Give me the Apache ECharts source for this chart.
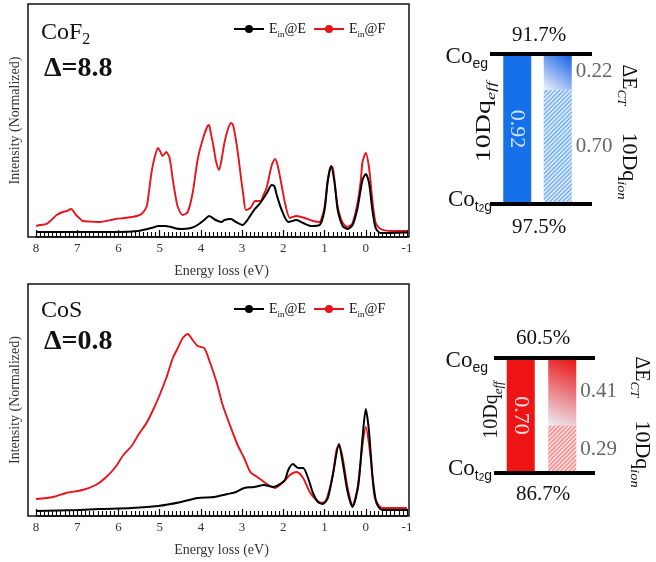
<!DOCTYPE html>
<html>
<head>
<meta charset="utf-8">
<script src="https://cdn.jsdelivr.net/npm/echarts@6/dist/echarts.min.js"></script>
<style>
html, body { margin: 0; padding: 0; background: #fff; }
#main { width: 656px; height: 562px; }
</style>
</head>
<body>
<div id="main"></div>
<script>
// tick labels of the energy axis (eV, drawn reversed)
const energyTicks = [8, 7, 6, 5, 4, 3, 2, 1, 0, -1];

// CoF2 spectra, [energy loss, intensity]
const cof2E = [[8.0,0.05],[7.0,0.05],[6.0,0.05],[5.52,0.06],[5.3,0.08],[5.15,0.095],[5.04,0.11],[4.88,0.11],[4.72,0.1],[4.6,0.085],[4.48,0.08],[4.24,0.09],[4.08,0.12],[3.92,0.17],[3.8,0.21],[3.64,0.17],[3.5,0.15],[3.43,0.17],[3.27,0.18],[3.15,0.15],[2.99,0.12],[2.87,0.17],[2.71,0.27],[2.56,0.34],[2.4,0.44],[2.28,0.52],[2.22,0.51],[2.16,0.42],[2.04,0.27],[1.88,0.15],[1.68,0.17],[1.52,0.14],[1.32,0.11],[1.12,0.12],[1.0,0.27],[0.92,0.57],[0.84,0.71],[0.76,0.55],[0.68,0.27],[0.56,0.11],[0.44,0.08],[0.32,0.12],[0.2,0.29],[0.08,0.57],[0.0,0.63],[-0.08,0.54],[-0.16,0.27],[-0.24,0.09],[-0.36,0.04],[-1.0,0.045]];
const cof2F = [[8.0,0.11],[7.9,0.12],[7.75,0.13],[7.6,0.18],[7.5,0.22],[7.35,0.25],[7.25,0.26],[7.15,0.28],[7.03,0.22],[6.95,0.19],[6.87,0.16],[6.7,0.155],[6.47,0.15],[6.3,0.16],[6.07,0.18],[5.85,0.19],[5.68,0.2],[5.55,0.21],[5.44,0.23],[5.32,0.3],[5.26,0.45],[5.2,0.64],[5.12,0.8],[5.04,0.89],[4.98,0.85],[4.93,0.81],[4.84,0.85],[4.76,0.79],[4.68,0.57],[4.62,0.42],[4.56,0.3],[4.44,0.22],[4.32,0.25],[4.2,0.44],[4.08,0.77],[3.96,0.97],[3.84,1.11],[3.8,1.12],[3.76,1.04],[3.7,0.92],[3.64,0.77],[3.56,0.67],[3.5,0.77],[3.43,0.94],[3.35,1.07],[3.27,1.14],[3.22,1.12],[3.15,0.97],[3.08,0.77],[3.03,0.6],[2.97,0.42],[2.91,0.27],[2.8,0.29],[2.68,0.36],[2.56,0.36],[2.48,0.42],[2.4,0.5],[2.28,0.72],[2.2,0.78],[2.14,0.72],[2.08,0.6],[2.02,0.47],[1.96,0.34],[1.84,0.19],[1.68,0.21],[1.48,0.19],[1.28,0.16],[1.12,0.15],[1.04,0.23],[1.0,0.3],[0.92,0.57],[0.84,0.71],[0.8,0.69],[0.76,0.57],[0.68,0.3],[0.56,0.14],[0.44,0.1],[0.32,0.14],[0.2,0.34],[0.12,0.57],[0.08,0.75],[0.0,0.84],[-0.08,0.69],[-0.16,0.37],[-0.24,0.14],[-0.36,0.08],[-0.64,0.06],[-1.0,0.06]];

// CoS spectra
const cosE = [[8.0,0.05],[7.0,0.06],[6.47,0.07],[5.68,0.08],[5.04,0.1],[4.48,0.14],[4.08,0.18],[3.68,0.19],[3.35,0.22],[3.15,0.24],[2.95,0.28],[2.71,0.29],[2.47,0.31],[2.24,0.29],[2.08,0.32],[1.96,0.36],[1.88,0.46],[1.77,0.52],[1.64,0.48],[1.52,0.48],[1.4,0.38],[1.28,0.23],[1.16,0.14],[1.04,0.12],[0.92,0.18],[0.8,0.41],[0.65,0.72],[0.55,0.51],[0.44,0.24],[0.32,0.09],[0.18,0.31],[0.08,0.78],[0.0,1.07],[-0.08,0.84],[-0.16,0.41],[-0.26,0.13],[-0.4,0.06],[-1.0,0.06]];
const cosF = [[8.0,0.17],[7.59,0.19],[7.27,0.23],[6.87,0.26],[6.55,0.31],[6.32,0.38],[6.07,0.49],[5.88,0.61],[5.68,0.7],[5.52,0.81],[5.32,0.93],[5.16,1.06],[5.0,1.21],[4.84,1.38],[4.68,1.58],[4.56,1.68],[4.44,1.78],[4.32,1.82],[4.2,1.76],[4.08,1.7],[3.92,1.68],[3.8,1.56],[3.62,1.34],[3.48,1.12],[3.27,0.88],[3.11,0.71],[2.95,0.58],[2.8,0.44],[2.63,0.39],[2.47,0.34],[2.32,0.3],[2.2,0.28],[2.0,0.34],[1.84,0.41],[1.68,0.44],[1.52,0.38],[1.36,0.24],[1.2,0.16],[1.08,0.13],[0.96,0.16],[0.8,0.41],[0.71,0.66],[0.65,0.71],[0.56,0.58],[0.44,0.28],[0.32,0.11],[0.2,0.28],[0.08,0.71],[0.0,0.89],[-0.12,0.58],[-0.22,0.18],[-0.4,0.08],[-1.0,0.08]];

// energy level diagrams (CoF2, CoS)
const dqEff = [0.92, 0.70];
const dqIon = [0.70, 0.29];
const ectVal = [0.22, 0.41];
const egOcc = ['91.7%', '60.5%'];
const t2gOcc = ['97.5%', '86.7%'];

const SERIF = '"Liberation Serif", "Times New Roman", serif';
const SANS = '"Liberation Sans", Arial, sans-serif';

let chart = echarts.init(document.getElementById('main'));

const panels = [
    {top: 4, height: 233, ymax: 2.33, legendTop: 17, titleY: 33, deltaY: 69, name: '{a|CoF}{b|2}', delta: 'Δ=8.8', e: cof2E, f: cof2F, id: 'cof2'},
    {top: 284, height: 232, ymax: 2.32, legendTop: 297, titleY: 311, deltaY: 342, name: '{a|CoS}', delta: 'Δ=0.8', e: cosE, f: cosF, id: 'cos'}
];
const diags = [
    {left: 497, width: 81, top: 54, height: 150, lineX: [490, 592], occX: 539, occTopY: 35, occBotY: 227,
        effX: 485, effY: 122, effScale: 1.4, sideX: 628, ctY: 85, ionY: 166,
        solid: '#1670ea', deep: '#0c5ce6', pale: '#eef2fb', hatchBg: '#d3e6fb', hatch: '#5fa2ef', inTxt: '#cfe4ff'},
    {left: 500, width: 83, top: 358, height: 115, lineX: [494, 595], occX: 543, occTopY: 338, occBotY: 494,
        effX: 492, effY: 410, effScale: 1.0, sideX: 641, ctY: 377, ionY: 454,
        solid: '#ee1414', deep: '#ea0f0f', pale: '#ecebf6', hatchBg: '#fbd6d6', hatch: '#f07a7a', inTxt: '#ffdcdc'}
];

let grids = [], xAxes = [], yAxes = [], series = [], legends = [], graphics = [];

function txt(x, y, style, extra) {
    return Object.assign({
        type: 'text', x: x, y: y, silent: true, z: 100,
        style: Object.assign({textAlign: 'center', textVerticalAlign: 'middle', fill: '#111'}, style)
    }, extra || {});
}

const legendRich = {
    m: {fontFamily: SERIF, fontSize: 14, color: '#111', lineHeight: 20},
    s: {fontFamily: SERIF, fontSize: 9, color: '#111', lineHeight: 9, verticalAlign: 'bottom'}
};
const titleRich = {
    a: {fontFamily: SERIF, fontSize: 24, lineHeight: 30, color: '#111'},
    b: {fontFamily: SERIF, fontSize: 16, lineHeight: 16, verticalAlign: 'bottom', color: '#111'}
};

panels.forEach(function (p, i) {
    grids.push({left: 31, width: 376, top: p.top, height: p.height});
    xAxes.push({
        gridIndex: i, type: 'value', min: -1, max: 8, interval: 1, inverse: true,
        axisLine: {lineStyle: {color: '#000', width: 1.5}},
        axisTick: {inside: true, length: 7, lineStyle: {color: '#000', width: 1.2}},
        minorTick: {show: true, splitNumber: 10, length: 5, lineStyle: {color: '#000', width: 1.1}},
        splitLine: {show: false},
        axisLabel: {
            color: '#333', fontFamily: SERIF, fontSize: 13, margin: 5,
            showMinLabel: true, showMaxLabel: true,
            formatter: function (v) { return energyTicks.indexOf(v) >= 0 ? String(v) : ''; }
        },
        name: 'Energy loss (eV)', nameLocation: 'middle', nameGap: 27,
        nameTextStyle: {color: '#333', fontFamily: SERIF, fontSize: 14}
    });
    yAxes.push({
        gridIndex: i, type: 'value', min: 0, max: p.ymax,
        axisLine: {show: false}, axisTick: {show: false}, axisLabel: {show: false}, splitLine: {show: false},
        name: 'Intensity (Normalized)', nameLocation: 'middle', nameGap: 14,
        nameTextStyle: {color: '#333', fontFamily: SERIF, fontSize: 14}
    });
    series.push({
        name: p.id + 'F', type: 'line', xAxisIndex: i, yAxisIndex: i, data: p.f,
        symbol: 'circle', symbolSize: 7, showSymbol: false, smooth: 0.25,
        lineStyle: {color: '#e8141b', width: 1.9}, itemStyle: {color: '#e8141b'}, silent: true
    });
    series.push({
        name: p.id + 'E', type: 'line', xAxisIndex: i, yAxisIndex: i, data: p.e,
        symbol: 'circle', symbolSize: 7, showSymbol: false, smooth: 0.25,
        lineStyle: {color: '#000', width: 2}, itemStyle: {color: '#000'}, silent: true
    });
    legends.push({
        data: [p.id + 'E', p.id + 'F'], left: 228, top: p.legendTop,
        itemWidth: 30, itemHeight: 10, itemGap: 7, selectedMode: false,
        formatter: function (n) { return '{m|E}{s|in}{m|@' + n.slice(-1) + '}'; },
        textStyle: {rich: legendRich}
    });
    graphics.push({
        type: 'rect', silent: true, z: 100,
        shape: {x: 28, y: p.top, width: 381, height: p.height},
        style: {fill: 'none', stroke: '#111', lineWidth: 1.5}
    });
    graphics.push(txt(41, p.titleY, {text: p.name, rich: titleRich, textAlign: 'left'}));
    graphics.push(txt(44, p.deltaY, {text: p.delta, font: 'bold 28px ' + SERIF, textAlign: 'left'}));
});

const coRich = {
    c: {fontFamily: SERIF, fontSize: 23, lineHeight: 28, color: '#000'},
    s: {fontFamily: SANS, fontSize: 14, lineHeight: 14, verticalAlign: 'bottom', color: '#000'},
    t: {fontFamily: SANS, fontSize: 10, lineHeight: 6, verticalAlign: 'bottom', color: '#000'}
};
const sideRich = {
    m: {fontFamily: SERIF, fontSize: 20, lineHeight: 26, color: '#111'},
    i: {fontFamily: SERIF, fontSize: 13, fontStyle: 'italic', lineHeight: 14, verticalAlign: 'bottom', color: '#111'}
};

diags.forEach(function (d, k) {
    const gi = 2 + k;
    grids.push({left: d.left, width: d.width, top: d.top, height: d.height});
    xAxes.push({gridIndex: gi, type: 'category', data: ['eff', 'ion'], show: false});
    yAxes.push({gridIndex: gi, type: 'value', min: 0, max: dqEff[k], show: false});
    const fmt = function (p) { return p.value.toFixed(2); };
    series.push({
        name: 'eff' + k, type: 'bar', xAxisIndex: gi, yAxisIndex: gi, stack: 'd' + k, barWidth: 28, silent: true,
        data: [dqEff[k], '-'],
        itemStyle: {color: d.solid},
        label: {show: true, position: 'inside', rotate: -90, color: d.inTxt, fontFamily: SERIF, fontSize: 22, formatter: fmt}
    });
    series.push({
        name: 'ion' + k, type: 'bar', xAxisIndex: gi, yAxisIndex: gi, stack: 'd' + k, barWidth: 28, silent: true,
        data: ['-', dqIon[k]],
        itemStyle: {
            color: d.hatchBg,
            decal: {symbol: 'rect', symbolSize: 1, dashArrayX: [1, 0], dashArrayY: [1, 2], rotation: -Math.PI / 4, color: d.hatch}
        },
        label: {show: true, position: 'right', distance: 4, color: '#666', fontFamily: SERIF, fontSize: 21, formatter: fmt}
    });
    series.push({
        name: 'ct' + k, type: 'bar', xAxisIndex: gi, yAxisIndex: gi, stack: 'd' + k, barWidth: 28, silent: true,
        data: ['-', ectVal[k]],
        itemStyle: {color: {type: 'linear', x: 1, y: 0, x2: 0, y2: 1,
            colorStops: [{offset: 0, color: d.deep}, {offset: 1, color: d.pale}]}},
        label: {show: true, position: 'right', distance: 4, color: '#666', fontFamily: SERIF, fontSize: 21, formatter: fmt}
    });

    const yTop = d.top, yBot = d.top + d.height;
    graphics.push({type: 'line', silent: true, z: 100, shape: {x1: d.lineX[0], y1: yTop, x2: d.lineX[1], y2: yTop}, style: {stroke: '#000', lineWidth: 4}});
    graphics.push({type: 'line', silent: true, z: 100, shape: {x1: d.lineX[0], y1: yBot, x2: d.lineX[1], y2: yBot}, style: {stroke: '#000', lineWidth: 4}});
    graphics.push(txt(d.occX, d.occTopY, {text: egOcc[k], font: '21px ' + SERIF}));
    graphics.push(txt(d.occX, d.occBotY, {text: t2gOcc[k], font: '21px ' + SERIF}));
    graphics.push(txt(488, yTop + 3, {text: '{c|Co}{s|eg}', rich: coRich, textAlign: 'right'}));
    graphics.push(txt(492, yBot - 4, {text: '{c|Co}{s|t}{t|2}{s|g}', rich: coRich, textAlign: 'right'}));
    graphics.push(txt(d.effX, d.effY, {text: '{m|10Dq}{i|eff}', rich: sideRich}, {rotation: Math.PI / 2, scaleX: d.effScale}));
    graphics.push(txt(d.sideX, d.ctY, {text: '{m|ΔE}{i|CT}', rich: sideRich}, {rotation: -Math.PI / 2}));
    graphics.push(txt(d.sideX, d.ionY, {text: '{m|10Dq}{i|ion}', rich: sideRich}, {rotation: -Math.PI / 2, scaleX: 1.1}));
});

chart.setOption({
    animation: false,
    backgroundColor: '#fff',
    grid: grids,
    xAxis: xAxes,
    yAxis: yAxes,
    legend: legends,
    series: series,
    graphic: graphics
});
</script>
</body>
</html>
